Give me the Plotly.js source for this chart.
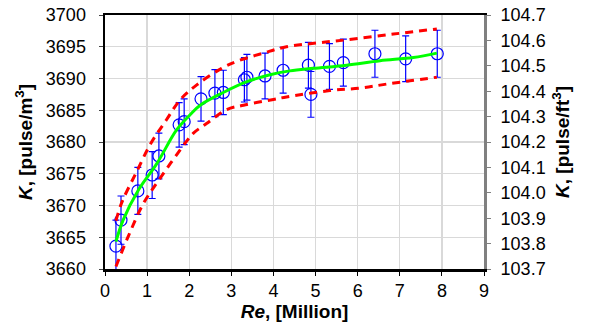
<!DOCTYPE html>
<html>
<head>
<meta charset="utf-8">
<script src="https://cdn.plot.ly/plotly-3.0.1.min.js"></script>
<style>html,body{margin:0;padding:0;background:#fff;}#chart{width:596px;height:327px;}</style>
</head>
<body>
<div id="chart"></div>
<script>
// Measured points
const reMeas = [0.26, 0.38, 0.78, 1.12, 1.28, 1.76, 1.88, 2.28, 2.61, 2.81, 3.31, 3.37, 3.80, 4.23, 4.83, 4.89, 5.33, 5.66, 6.41, 7.14, 7.89];
const kMeas  = [3663.6, 3667.7, 3672.3, 3674.8, 3677.8, 3682.7, 3683.2, 3686.8, 3687.7, 3687.8, 3689.8, 3690.2, 3690.4, 3691.3, 3692.1, 3687.5, 3691.9, 3692.5, 3693.9, 3693.1, 3693.9];
const kErr   = [4.1, 3.8, 3.7, 3.7, 3.6, 3.5, 3.6, 3.5, 3.7, 3.5, 3.5, 3.6, 3.6, 3.6, 3.6, 3.6, 3.6, 3.7, 3.7, 3.6, 3.7];

// Fit curve
const reFit = [0.26, 0.43, 0.79, 1.23, 1.70, 2.02, 2.26, 2.81, 3.37, 3.92, 4.39, 4.95, 5.74, 6.53, 7.32, 7.88];
const kFit  = [3664.3, 3667.7, 3672.4, 3676.6, 3681.9, 3684.3, 3685.8, 3687.8, 3689.5, 3690.6, 3691.2, 3691.6, 3692.1, 3692.8, 3693.3, 3694.0];

// Upper band
const reUp = [0.26, 0.40, 0.75, 1.09, 1.46, 1.78, 2.18, 2.77, 3.13, 3.76, 4.31, 5.19, 5.74, 6.85, 7.88];
const kUp  = [3667.6, 3670.5, 3675.3, 3679.8, 3683.5, 3686.6, 3689.0, 3691.6, 3692.7, 3694.0, 3695.0, 3695.7, 3696.1, 3697.0, 3697.8];

// Lower band
const reLo = [0.26, 0.55, 0.91, 1.31, 1.90, 2.10, 2.41, 2.89, 3.29, 4.00, 4.31, 5.34, 6.06, 6.77, 7.88];
const kLo  = [3660.4, 3665.1, 3670.3, 3674.3, 3679.8, 3681.4, 3682.9, 3685.1, 3685.8, 3686.7, 3687.1, 3688.1, 3688.5, 3689.2, 3690.2];

const xTicks = [0,1,2,3,4,5,6,7,8,9];
const yTicks = [3660,3665,3670,3675,3680,3685,3690,3695,3700];
const y2Ticks = [103.7,103.8,103.9,104.0,104.1,104.2,104.3,104.4,104.5,104.6,104.7];

const traces = [
  {x: reMeas, y: kMeas, type:'scatter', mode:'markers',
   marker:{symbol:'circle-open', size:12, color:'#0000ff', line:{width:1.2, color:'#0000ff'}},
   error_y:{type:'data', array:kErr, visible:true, color:'#0000ff', thickness:1.2, width:3.5},
   showlegend:false, cliponaxis:true},
  {x: reUp, y: kUp, type:'scatter', mode:'lines', line:{color:'#ff0000', width:3, dash:'8px,6px', shape:'spline'}, showlegend:false},
  {x: reLo, y: kLo, type:'scatter', mode:'lines', line:{color:'#ff0000', width:3, dash:'8px,6px', shape:'spline'}, showlegend:false},
  {x: reFit, y: kFit, type:'scatter', mode:'lines', line:{color:'#00ff00', width:3, shape:'spline'}, showlegend:false},
  {x: [0], y: [104.0], yaxis:'y2', type:'scatter', mode:'markers', marker:{opacity:0}, hoverinfo:'skip', showlegend:false}
];

const tickFont = {family:'Liberation Sans, Arial, sans-serif', size:18, color:'#000'};
const titleFont = {family:'Liberation Sans, Arial, sans-serif', size:19, color:'#000'};

const layout = {
  width:596, height:327,
  margin:{l:105, r:112, t:15, b:58},
  paper_bgcolor:'#fff', plot_bgcolor:'#fff',
  xaxis:{range:[0,9], tickvals:xTicks, ticktext:xTicks.map(String),
    showgrid:true, gridcolor:'#d9d9d9', gridwidth:1.3, zeroline:false,
    showline:true, linecolor:'#000', linewidth:2.5, mirror:true,
    ticks:'outside', ticklen:4, tickcolor:'#000', tickwidth:1,
    tickfont:tickFont,
    title:{text:'<b><i>Re</i>, [Million]</b>', font:titleFont, standoff:0}},
  yaxis:{range:[3660,3700], tickvals:yTicks, ticktext:yTicks.map(String),
    showgrid:true, gridcolor:'#d9d9d9', gridwidth:1.3, zeroline:false,
    showline:true, linecolor:'#000', linewidth:2.5, mirror:false,
    ticks:'outside', ticklen:4, tickcolor:'#444', tickwidth:1,
    ticklabelstandoff:9,
    tickfont:tickFont,
    title:{text:'<b><i>K</i>, [pulse/m<sup>3</sup>]</b>', font:titleFont, standoff:8}},
  yaxis2:{range:[103.7,104.7], tickvals:y2Ticks, ticktext:y2Ticks.map(v=>v.toFixed(1)),
    overlaying:'y', side:'right', showgrid:false, zeroline:false,
    showline:true, linecolor:'#808080', linewidth:3,
    ticks:'outside', ticklen:4, tickcolor:'#808080', tickwidth:1,
    ticklabelstandoff:6,
    tickfont:tickFont,
    title:{text:'<b><i>K</i>, [pulse/ft<sup>3</sup>]</b>', font:titleFont, standoff:12}}
};

Plotly.newPlot('chart', traces, layout, {displayModeBar:false, staticPlot:true});
</script>
</body>
</html>
